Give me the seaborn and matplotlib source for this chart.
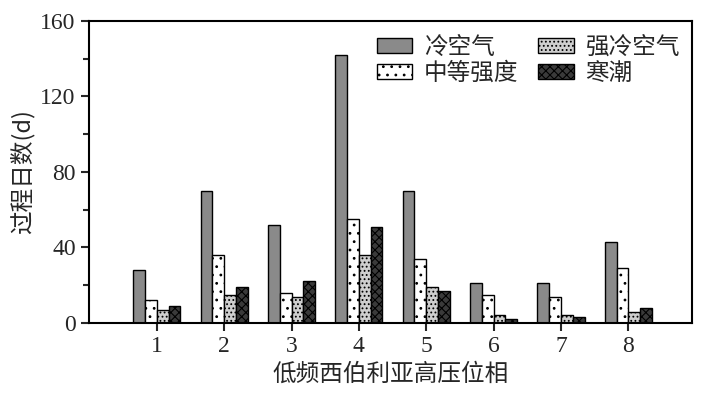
import seaborn as sns
import matplotlib.pyplot as plt
import pandas as pd

sns.set_style('ticks')
plt.rcParams['font.family'] = ['Liberation Serif', 'Noto Sans CJK SC', 'DejaVu Sans']
plt.rcParams['hatch.linewidth'] = 0.8

# 数据
phases = ['1', '2', '3', '4', '5', '6', '7', '8']
series = ['冷空气', '中等强度', '强冷空气', '寒潮']
cold_air = [28, 70, 52, 142, 70, 21, 21, 43]
moderate = [12, 36, 16, 55, 34, 15, 14, 29]
strong = [7, 15, 14, 36, 19, 4, 4, 6]
cold_wave = [9, 19, 22, 51, 17, 2, 3, 8]

df = pd.DataFrame({'phase': phases * 4,
                   'type': sum([[s] * 8 for s in series], []),
                   'days': cold_air + moderate + strong + cold_wave})

fig = plt.figure(figsize=(7.05, 3.93), dpi=100)
ax = fig.add_axes([0.126, 0.178, 0.856, 0.769])
sns.barplot(data=df, x='phase', y='days', hue='type', hue_order=series,
            width=0.7, legend=False, ax=ax, errorbar=None)

styles = [('#8a8a8a', ''), ('white', '..'), ('#cfcfcf', '....'), ('#3a3a3a', 'xxxx')]
for cont, (fc, hatch) in zip(ax.containers, styles):
    for p in cont:
        p.set_facecolor(fc)
        p.set_edgecolor('black')
        p.set_hatch(hatch)
        p.set_linewidth(1.0)

ax.set_ylim(0, 160)
ax.set_xlim(-1.01, 7.95)
ax.set_yticks([0, 40, 80, 120, 160])
ax.set_yticks([20, 60, 100, 140], minor=True)
for s in ax.spines.values():
    s.set_linewidth(1.5)
    s.set_color('black')
ax.tick_params(axis='both', which='major', length=6, width=1.5, labelsize=17, direction='out')
ax.tick_params(axis='y', which='minor', length=4, width=1.5)
ax.set_xlabel('低频西伯利亚高压位相', fontsize=17, family=['Noto Sans CJK SC'])
ax.set_ylabel('过程日数(d)', fontsize=17, family=['Noto Sans CJK SC', 'Liberation Serif'])

ax.legend(ax.containers, series, ncol=2, frameon=False, loc='upper right',
          bbox_to_anchor=(1.015, 1.02), prop={'family': 'Noto Sans CJK SC', 'size': 17},
          handlelength=1.5, handleheight=0.6, columnspacing=0.85, labelspacing=0.12,
          handletextpad=0.5)

fig.savefig('out.png', dpi=100)
